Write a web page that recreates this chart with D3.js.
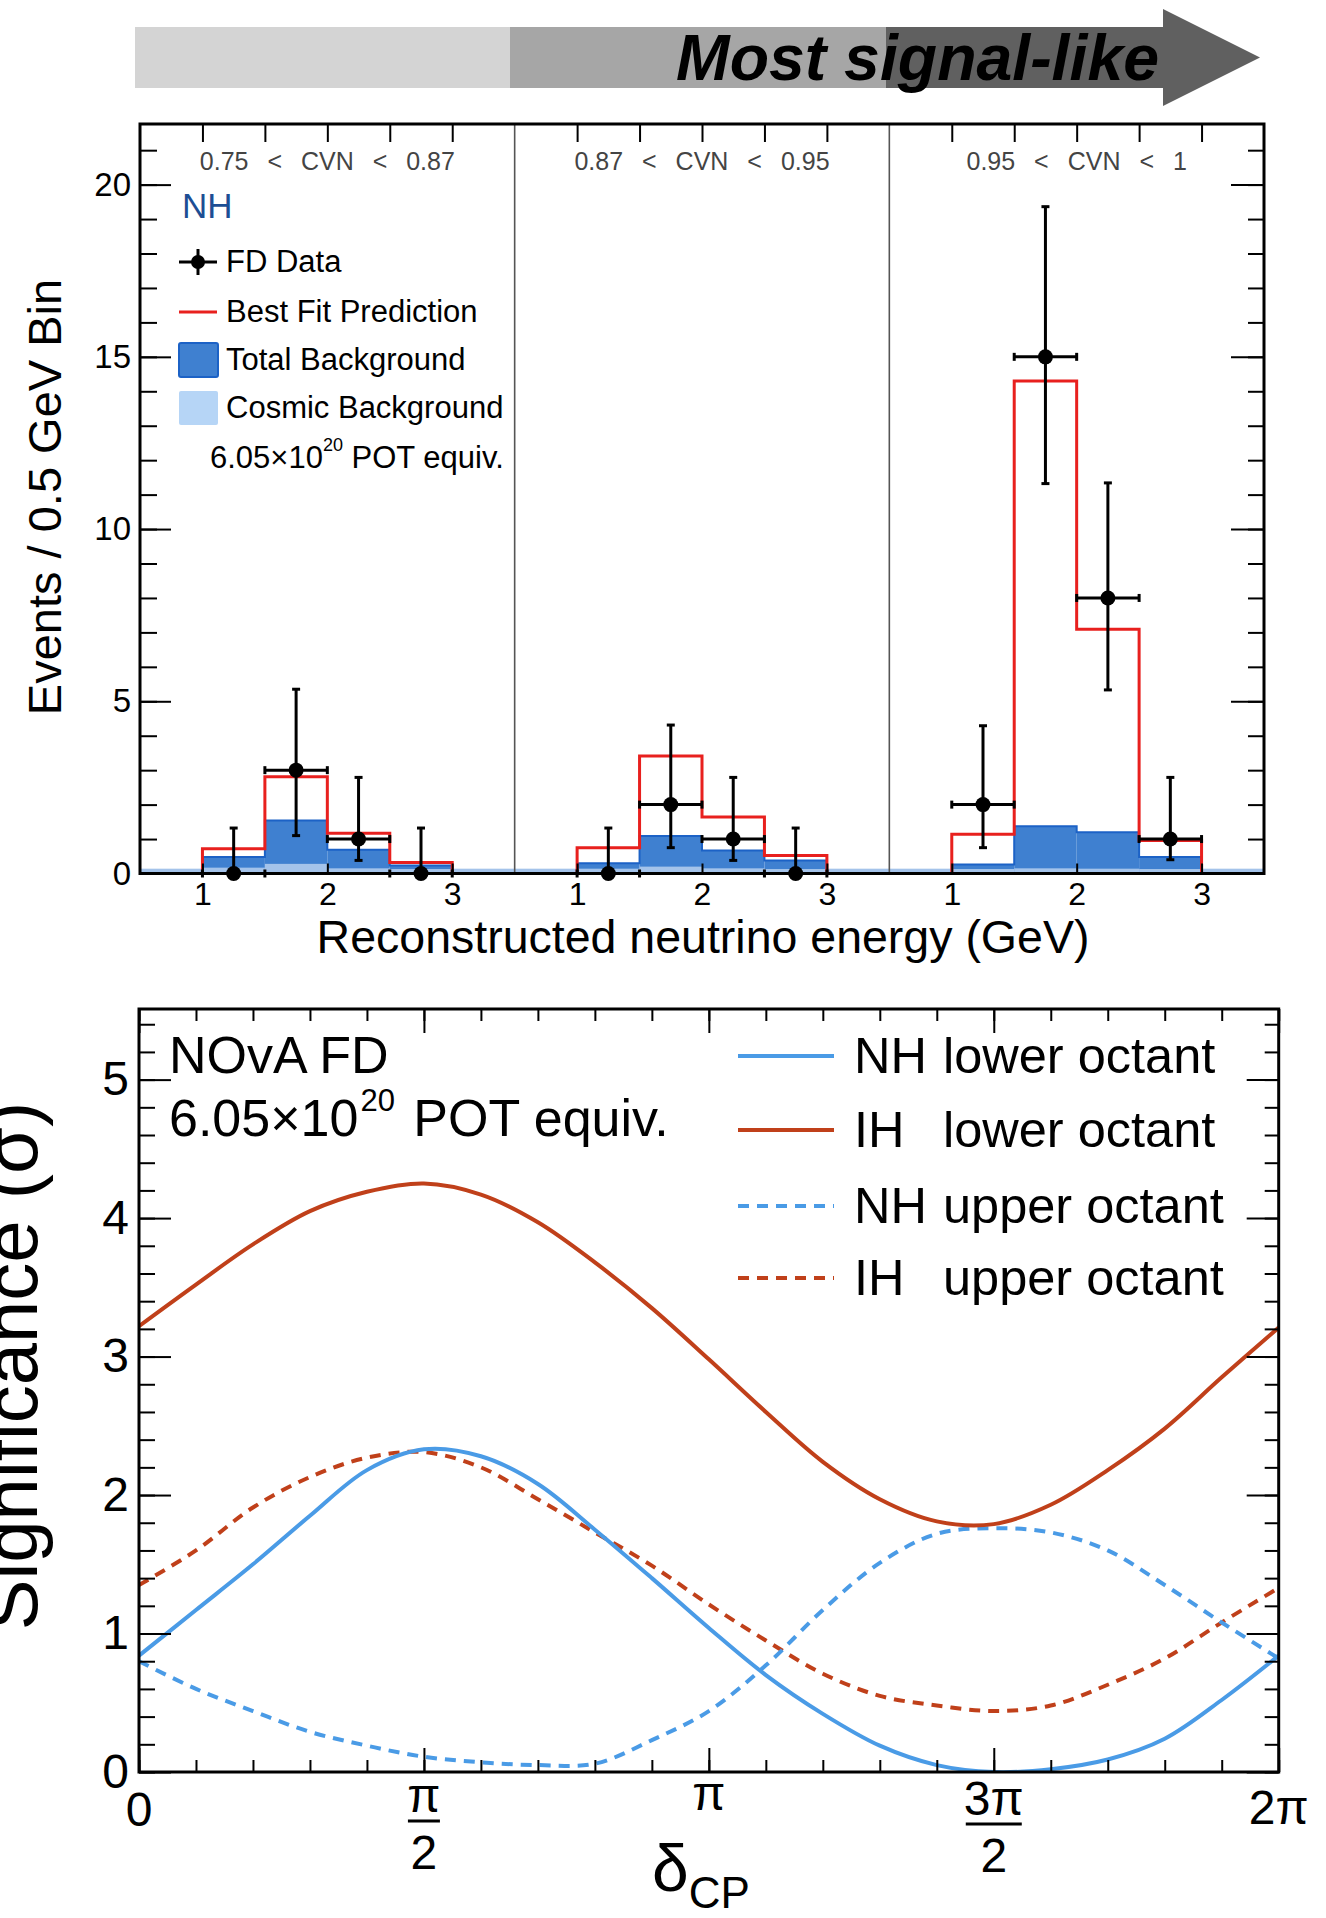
<!DOCTYPE html>
<html><head><meta charset="utf-8">
<script src="https://cdn.jsdelivr.net/npm/d3@7"></script>
<style>
html,body{margin:0;padding:0;background:#fff;}
svg{display:block;}
text{font-family:"Liberation Sans",Arial,Helvetica,sans-serif;}
</style></head><body>
<svg id="chart" width="1326" height="1918"></svg>
<script>
// ================= DATA =================
// Top figure: FD nu_e candidates in three CVN bins
const cvnRanges = ["0.75 < CVN < 0.87", "0.87 < CVN < 0.95", "0.95 < CVN < 1"];
const energyLabelTicks = [1, 2, 3];
const energyTicks = [1, 1.5, 2, 2.5, 3];
const binEdges = [1, 1.5, 2, 2.5, 3];
const binCenters = [1.25, 1.75, 2.25, 2.75];
const bestFitPrediction = [[0.72, 2.81, 1.17, 0.32], [0.75, 3.41, 1.64, 0.52], [1.14, 14.3, 7.09, 0.96]];
const totalBackground = [[0.48, 1.54, 0.69, 0.23], [0.30, 1.09, 0.67, 0.38], [0.26, 1.37, 1.20, 0.48]];
const cosmicEdges = [0.5, 1, 1.5, 2, 2.5, 3, 3.5];
const cosmicBackground = [[0.14, 0.17, 0.28, 0.15, 0.13, 0.14], [0.14, 0.14, 0.20, 0.15, 0.13, 0.14], [0.14, 0.13, 0.15, 0.14, 0.13, 0.14]];
const fdData = [[0, 3, 1, 0], [0, 2, 1, 0], [2, 15, 8, 1]];
const fdDataLow = [[0, 1.10, 0.38, 0], [0, 0.75, 0.38, 0], [0.75, 11.32, 5.33, 0.40]];
const fdDataHigh = [[1.32, 5.35, 2.79, 1.32], [1.32, 4.31, 2.79, 1.32], [4.29, 19.36, 11.34, 2.79]];
const eventsMajorTicks = [0, 5, 10, 15, 20];
const eventsMinorTicks = d3.range(0, 22, 1);
const topLegendLabels = ["FD Data", "Best Fit Prediction", "Total Background", "Cosmic Background"];

// Bottom figure: significance vs delta_CP (delta in units of pi)
const deltaOverPi = [0, 0.1, 0.2, 0.3, 0.4, 0.5, 0.6, 0.7, 0.8, 0.9, 1.0, 1.1, 1.2, 1.3, 1.4, 1.5, 1.6, 1.7, 1.8, 1.9, 2.0];
const nhLower = [0.84, 1.17, 1.50, 1.85, 2.18, 2.33, 2.28, 2.08, 1.75, 1.40, 1.04, 0.70, 0.42, 0.19, 0.05, 0.00, 0.02, 0.09, 0.24, 0.52, 0.84];
const ihLower = [3.22, 3.52, 3.81, 4.05, 4.19, 4.25, 4.17, 3.97, 3.68, 3.35, 2.98, 2.60, 2.24, 1.97, 1.81, 1.79, 1.93, 2.18, 2.48, 2.85, 3.21];
const nhUpper = [0.80, 0.60, 0.44, 0.29, 0.19, 0.11, 0.07, 0.05, 0.06, 0.23, 0.44, 0.77, 1.17, 1.51, 1.72, 1.76, 1.73, 1.60, 1.35, 1.08, 0.82];
const ihUpper = [1.35, 1.60, 1.91, 2.13, 2.27, 2.31, 2.20, 1.97, 1.73, 1.49, 1.21, 0.95, 0.71, 0.55, 0.48, 0.44, 0.48, 0.63, 0.82, 1.08, 1.33];
const sigMajorTicks = [0, 1, 2, 3, 4, 5];
const sigMinorTicks = d3.range(0, 5.5, 0.2);
const deltaMajorTicks = [0, 0.5, 1, 1.5, 2];
const deltaMinorTicks = d3.range(0, 2.01, 0.1);
const legendHierarchy = ["NH", "IH", "NH", "IH"];
const legendOctant = ["lower octant", "lower octant", "upper octant", "upper octant"];

// ================= DRAW =================
const svg = d3.select("#chart");
const FONT = '"Liberation Sans",Arial,Helvetica,sans-serif';

// ---- "Most signal-like" arrow ----
const arrowG = svg.append("g");
arrowG.append("rect").attr("x", 135).attr("y", 27).attr("width", 375).attr("height", 61).attr("fill", "#d4d4d4");
arrowG.append("rect").attr("x", 510).attr("y", 27).attr("width", 376).attr("height", 61).attr("fill", "#a6a6a6");
arrowG.append("rect").attr("x", 886).attr("y", 27).attr("width", 278).attr("height", 61).attr("fill", "#606060");
arrowG.append("path").attr("d", "M1163,9 L1260,57.5 L1163,106 Z").attr("fill", "#606060");
arrowG.append("text").attr("x", 676).attr("y", 80).attr("font-size", 64).attr("font-weight", "bold")
  .attr("font-style", "italic").attr("textLength", 483).attr("lengthAdjust", "spacingAndGlyphs")
  .attr("fill", "#000").text("Most signal-like");

// ---- top figure ----
const xT = d3.scaleLinear().domain([0, 9]).range([140, 1264]);
const yT = d3.scaleLinear().domain([0, 21.76]).range([873.5, 124]);
const ex = (p, E) => xT(3 * p + E - 0.5);
const gTop = svg.append("g");

function styleAxis(g, size) {
  g.select(".domain").remove();
  g.selectAll("line").attr("stroke", "#000").attr("stroke-width", 2);
  g.attr("font-family", FONT).attr("font-size", size || 10);
  g.selectAll("text").attr("fill", "#000");
}

for (let p = 0; p < 3; p++) {
  totalBackground[p].forEach((v, i) => {
    gTop.append("rect").attr("x", ex(p, binEdges[i])).attr("width", ex(p, binEdges[i + 1]) - ex(p, binEdges[i]))
      .attr("y", yT(v)).attr("height", yT(0) - yT(v)).attr("fill", "#3f80d0");
  });
  const bkgPts = [[binEdges[0], 0]].concat(totalBackground[p].map((v, i) => [binEdges[i], v]))
    .concat([[binEdges[4], totalBackground[p][3]], [binEdges[4], 0]]);
  gTop.append("path").attr("d", d3.line().x(d => ex(p, d[0])).y(d => yT(d[1])).curve(d3.curveStepAfter)(bkgPts))
    .attr("fill", "none").attr("stroke", "#1c62c6").attr("stroke-width", 2);
  cosmicBackground[p].forEach((v, i) => {
    gTop.append("rect").attr("x", ex(p, cosmicEdges[i])).attr("width", ex(p, cosmicEdges[i + 1]) - ex(p, cosmicEdges[i]))
      .attr("y", yT(v)).attr("height", yT(0) - yT(v)).attr("fill", "#a4c3ea");
  });
  const predPts = [[binEdges[0], 0]].concat(bestFitPrediction[p].map((v, i) => [binEdges[i], v]))
    .concat([[binEdges[4], bestFitPrediction[p][3]], [binEdges[4], 0]]);
  gTop.append("path").attr("d", d3.line().x(d => ex(p, d[0])).y(d => yT(d[1])).curve(d3.curveStepAfter)(predPts))
    .attr("fill", "none").attr("stroke", "#e8201e").attr("stroke-width", 3);
  fdData[p].forEach((n, i) => {
    const cx = ex(p, binCenters[i]), cy = yT(n);
    const g = gTop.append("g").attr("stroke", "#000").attr("stroke-width", 3);
    g.append("line").attr("x1", cx).attr("x2", cx).attr("y1", yT(fdDataLow[p][i])).attr("y2", yT(fdDataHigh[p][i]));
    g.append("line").attr("x1", cx - 4).attr("x2", cx + 4).attr("y1", yT(fdDataHigh[p][i])).attr("y2", yT(fdDataHigh[p][i]));
    g.append("line").attr("x1", cx - 4).attr("x2", cx + 4).attr("y1", yT(fdDataLow[p][i])).attr("y2", yT(fdDataLow[p][i]));
    const bl = ex(p, binEdges[i]), br = ex(p, binEdges[i + 1]);
    g.append("line").attr("x1", bl).attr("x2", br).attr("y1", cy).attr("y2", cy);
    g.append("line").attr("x1", bl).attr("x2", bl).attr("y1", cy - 4).attr("y2", cy + 4);
    g.append("line").attr("x1", br).attr("x2", br).attr("y1", cy - 4).attr("y2", cy + 4);
    gTop.append("circle").attr("cx", cx).attr("cy", cy).attr("r", 7.5).attr("fill", "#000");
  });
  gTop.append("text").attr("x", ex(p, 2)).attr("y", 170).attr("text-anchor", "middle").attr("font-size", 25)
    .attr("word-spacing", "12px").attr("fill", "#444").text(cvnRanges[p]);
}
[1, 2].forEach(p => {
  gTop.append("line").attr("x1", xT(3 * p)).attr("x2", xT(3 * p)).attr("y1", yT.range()[1]).attr("y2", yT(0))
    .attr("stroke", "#555").attr("stroke-width", 1.6);
});

gTop.append("g").attr("transform", `translate(${xT(0)},0)`)
  .call(d3.axisLeft(yT).tickValues(eventsMinorTicks).tickSize(-17).tickFormat("")).call(g => styleAxis(g));
gTop.append("g").attr("transform", `translate(${xT(0)},0)`)
  .call(d3.axisLeft(yT).tickValues(eventsMajorTicks).tickSize(-31).tickPadding(9)).call(g => styleAxis(g, 33));
gTop.append("g").attr("transform", `translate(${xT(9)},0)`)
  .call(d3.axisRight(yT).tickValues(eventsMinorTicks).tickSize(-16).tickFormat("")).call(g => styleAxis(g));
gTop.append("g").attr("transform", `translate(${xT(9)},0)`)
  .call(d3.axisRight(yT).tickValues(eventsMajorTicks).tickSize(-33).tickFormat("")).call(g => styleAxis(g));
const topTickVals = [], labelVals = [], labelText = [];
for (let p = 0; p < 3; p++) {
  energyTicks.forEach(E => topTickVals.push(3 * p + E - 0.5));
  energyLabelTicks.forEach(E => { labelVals.push(3 * p + E - 0.5); labelText.push(E); });
}
gTop.append("g").attr("transform", `translate(0,${yT.range()[1]})`)
  .call(d3.axisTop(xT).tickValues(topTickVals).tickSize(-18).tickFormat("")).call(g => styleAxis(g));
gTop.append("g").attr("transform", `translate(0,${yT(0)})`)
  .call(d3.axisBottom(xT).tickValues(labelVals).tickSize(-10).tickPadding(9)
    .tickFormat((d, i) => labelText[i]))
  .call(g => styleAxis(g, 32));
gTop.append("rect").attr("x", xT(0)).attr("y", yT.range()[1]).attr("width", xT(9) - xT(0)).attr("height", yT(0) - yT.range()[1])
  .attr("fill", "none").attr("stroke", "#000").attr("stroke-width", 3);

gTop.append("text").attr("x", 703).attr("y", 953).attr("text-anchor", "middle").attr("font-size", 46.5)
  .text("Reconstructed neutrino energy (GeV)");
gTop.append("text").attr("transform", "translate(61,497) rotate(-90)").attr("text-anchor", "middle").attr("font-size", 47)
  .text("Events / 0.5 GeV Bin");

gTop.append("text").attr("x", 182).attr("y", 218).attr("font-size", 35).attr("fill", "#1d4e94").text("NH");
const legY = [262, 312, 360, 408];
const lx0 = 179, lx1 = 217;
{
  const g = gTop.append("g").attr("stroke", "#000").attr("stroke-width", 3);
  g.append("line").attr("x1", lx0).attr("x2", lx1).attr("y1", legY[0]).attr("y2", legY[0]);
  g.append("line").attr("x1", (lx0 + lx1) / 2).attr("x2", (lx0 + lx1) / 2).attr("y1", legY[0] - 13).attr("y2", legY[0] + 13);
  gTop.append("circle").attr("cx", (lx0 + lx1) / 2).attr("cy", legY[0]).attr("r", 7).attr("fill", "#000");
  gTop.append("line").attr("x1", lx0).attr("x2", lx1).attr("y1", legY[1]).attr("y2", legY[1]).attr("stroke", "#e8201e").attr("stroke-width", 3);
  gTop.append("rect").attr("x", lx0).attr("y", legY[2] - 17).attr("width", 39).attr("height", 34).attr("rx", 2)
    .attr("fill", "#3f80d0").attr("stroke", "#1c62c6").attr("stroke-width", 2);
  gTop.append("rect").attr("x", lx0).attr("y", legY[3] - 17).attr("width", 39).attr("height", 34).attr("rx", 2)
    .attr("fill", "#b6d5f6");
}
topLegendLabels.forEach((t, i) => {
  gTop.append("text").attr("x", 226).attr("y", legY[i] + 10).attr("font-size", 31).text(t);
});
{
  const t = gTop.append("text").attr("x", 210).attr("y", 468).attr("font-size", 31);
  t.append("tspan").text("6.05×10");
  t.append("tspan").attr("font-size", 18).attr("dy", -17).text("20");
  t.append("tspan").attr("dy", 17).text(" POT equiv.");
}

// ---- bottom figure ----
const xB = d3.scaleLinear().domain([0, 2]).range([139, 1278.7]);
const yB = d3.scaleLinear().domain([0, 5.51]).range([1772, 1009]);
const gBot = svg.append("g");

const seriesDefs = [
  { vals: nhLower, color: "#4a9be6", dash: null },
  { vals: ihLower, color: "#c0401a", dash: null },
  { vals: nhUpper, color: "#4a9be6", dash: "11,8" },
  { vals: ihUpper, color: "#c0401a", dash: "11,8" }
];
svg.append("clipPath").attr("id", "bclip").append("rect")
  .attr("x", xB(0)).attr("y", yB(5.51)).attr("width", xB(2) - xB(0)).attr("height", yB(0) - yB(5.51));
const curveLine = d3.line().x((d, i) => xB(deltaOverPi[i])).y(d => yB(Math.max(0, d))).curve(d3.curveCatmullRom.alpha(0.5));
[3, 2, 0, 1].forEach(k => {
  const s = seriesDefs[k];
  gBot.append("path").attr("d", curveLine(s.vals)).attr("fill", "none").attr("stroke", s.color).attr("stroke-width", 4)
    .attr("stroke-dasharray", s.dash).attr("clip-path", "url(#bclip)");
});

gBot.append("g").attr("transform", `translate(${xB(0)},0)`)
  .call(d3.axisLeft(yB).tickValues(sigMinorTicks).tickSize(-16).tickFormat("")).call(g => styleAxis(g));
gBot.append("g").attr("transform", `translate(${xB(0)},0)`)
  .call(d3.axisLeft(yB).tickValues(sigMajorTicks).tickSize(-32).tickPadding(10).tickFormat(d3.format("d"))).call(g => styleAxis(g, 48));
gBot.append("g").attr("transform", `translate(${xB(2)},0)`)
  .call(d3.axisRight(yB).tickValues(sigMinorTicks).tickSize(-14).tickFormat("")).call(g => styleAxis(g));
gBot.append("g").attr("transform", `translate(${xB(2)},0)`)
  .call(d3.axisRight(yB).tickValues(sigMajorTicks).tickSize(-32).tickFormat("")).call(g => styleAxis(g));
gBot.append("g").attr("transform", `translate(0,${yB(0)})`)
  .call(d3.axisBottom(xB).tickValues(deltaMinorTicks).tickSize(-12).tickFormat("")).call(g => styleAxis(g));
gBot.append("g").attr("transform", `translate(0,${yB(0)})`)
  .call(d3.axisBottom(xB).tickValues(deltaMajorTicks).tickSize(-24).tickFormat("")).call(g => styleAxis(g));
gBot.append("g").attr("transform", `translate(0,${yB(5.51)})`)
  .call(d3.axisTop(xB).tickValues(deltaMinorTicks).tickSize(-12).tickFormat("")).call(g => styleAxis(g));
gBot.append("g").attr("transform", `translate(0,${yB(5.51)})`)
  .call(d3.axisTop(xB).tickValues(deltaMajorTicks).tickSize(-24).tickFormat("")).call(g => styleAxis(g));
gBot.append("rect").attr("x", xB(0)).attr("y", yB(5.51)).attr("width", xB(2) - xB(0)).attr("height", yB(0) - yB(5.51))
  .attr("fill", "none").attr("stroke", "#000").attr("stroke-width", 3);

const xLab = gBot.append("g").attr("font-size", 48).attr("text-anchor", "middle");
xLab.append("text").attr("x", xB(0)).attr("y", 1826).text("0");
xLab.append("text").attr("x", xB(0.5)).attr("y", 1812).text("π");
xLab.append("line").attr("x1", xB(0.5) - 16).attr("x2", xB(0.5) + 16).attr("y1", 1821).attr("y2", 1821).attr("stroke", "#000").attr("stroke-width", 3);
xLab.append("text").attr("x", xB(0.5)).attr("y", 1869).text("2");
xLab.append("text").attr("x", xB(1)).attr("y", 1810).text("π");
xLab.append("text").attr("x", xB(1.5)).attr("y", 1815).text("3π");
xLab.append("line").attr("x1", xB(1.5) - 28).attr("x2", xB(1.5) + 28).attr("y1", 1824).attr("y2", 1824).attr("stroke", "#000").attr("stroke-width", 3);
xLab.append("text").attr("x", xB(1.5)).attr("y", 1872).text("2");
xLab.append("text").attr("x", xB(2)).attr("y", 1824).text("2π");

{
  const t = gBot.append("text").attr("x", 652).attr("y", 1891).attr("font-size", 66);
  t.append("tspan").text("δ");
  t.append("tspan").attr("font-size", 44).attr("dy", 17).text("CP");
}
gBot.append("text").attr("transform", "translate(37,1366) rotate(-90)").attr("text-anchor", "middle").attr("font-size", 76)
  .text("Significance (σ)");

gBot.append("text").attr("x", 169).attr("y", 1073).attr("font-size", 52).text("NOvA FD");
{
  const t = gBot.append("text").attr("x", 169).attr("y", 1136).attr("font-size", 52);
  t.append("tspan").text("6.05×10");
  t.append("tspan").attr("font-size", 31).attr("dy", -25).attr("dx", 2).text("20");
  t.append("tspan").attr("dy", 25).attr("dx", 4).text(" POT equiv.");
}
const legBY = [1056, 1130, 1206, 1278];
seriesDefs.forEach((s, i) => {
  gBot.append("line").attr("x1", 738).attr("x2", 834).attr("y1", legBY[i]).attr("y2", legBY[i])
    .attr("stroke", s.color).attr("stroke-width", 4).attr("stroke-dasharray", s.dash);
  gBot.append("text").attr("x", 854).attr("y", legBY[i] + 17).attr("font-size", 50.5).text(legendHierarchy[i]);
  gBot.append("text").attr("x", 943).attr("y", legBY[i] + 17).attr("font-size", 50.5).text(legendOctant[i]);
});
</script>
</body></html>
